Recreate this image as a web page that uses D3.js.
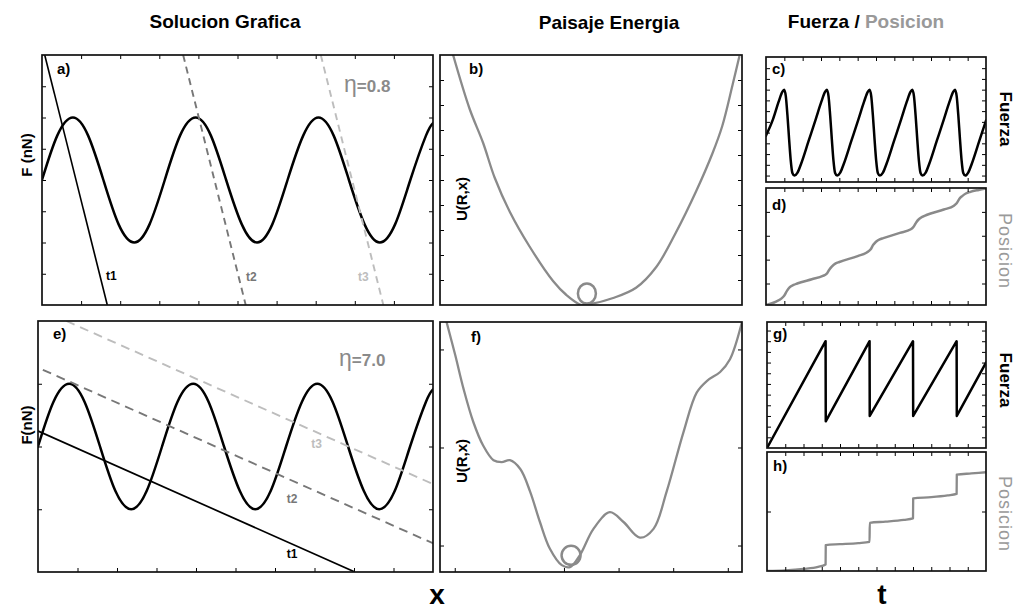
<!DOCTYPE html>
<html>
<head>
<meta charset="utf-8">
<script src="https://cdn.jsdelivr.net/npm/d3@7"></script>
<style>
  body { margin: 0; background: #fff; }
  svg { display: block; }
  text { font-family: "Liberation Sans", Arial, Helvetica, sans-serif; }
</style>
</head>
<body>
<svg id="chart" width="1016" height="610"></svg>
<script>
// ---------- data ----------
// periodic substrate force F(x) (panels a and e)
const substrateX = [0, 0.39, 0.79, 1.18, 1.57, 1.96, 2.36, 2.75, 3.14, 3.53, 3.93, 4.32, 4.71,
  5.11, 5.50, 5.89, 6.28, 6.68, 7.07, 7.46, 7.85, 8.25, 8.64, 9.03, 9.42, 9.82, 10.0];
const substrateF = [0, 0.71, 1, 0.71, 0, -0.71, -1, -0.71, 0, 0.71, 1, 0.71, 0,
  -0.71, -1, -0.71, 0, 0.71, 1, 0.71, 0, -0.71, -1, -0.71, 0, 0.71, 0.91];

// spring load lines: position where each line crosses F = 0, and common slope
const loadNames = ["t1", "t2", "t3"];
const loadCrossA = [0.87, 4.41, 7.93];
const loadSlopeA = -2.5;
const loadCrossE = [0.88, 4.49, 7.86];
const loadSlopeE = -0.28;
const etaValues = ["0.8", "7.0"];

// energy landscape U(R,x), low damping (b)
const landBX = [0.97, 1.27, 1.52, 1.73, 2.01, 2.37, 2.80, 3.04, 3.32, 3.47, 3.90, 4.32, 4.69, 5.05, 5.42, 5.72, 5.90, 6.09, 6.21];
const landBU = [10.0, 7.86, 6.48, 5.10, 3.72, 2.34, 0.96, 0.41, 0.0, 0.03, 0.28, 0.69, 1.52, 2.90, 4.55, 6.07, 7.17, 8.83, 9.93];
const ballB = [3.42, 0.46];

// energy landscape U(R,x), high damping (f)
const landFX = [0.85, 1.01, 1.16, 1.34, 1.52, 1.71, 1.86, 2.01, 2.20, 2.38, 2.56, 2.74, 2.96, 3.11, 3.29,
  3.54, 3.84, 4.09, 4.39, 4.64, 4.88, 5.19, 5.43, 5.62, 5.86, 6.04, 6.26];
const landFU = [2.28, 1.94, 1.60, 1.26, 1.02, 0.87, 0.85, 0.87, 0.78, 0.55, 0.24, -0.03, -0.20, -0.22, -0.10,
  0.17, 0.34, 0.24, 0.08, 0.17, 0.55, 1.16, 1.56, 1.68, 1.77, 1.90, 2.28];
const ballF = [3.13, -0.10];

// force vs time (c)
const forceCT = [0, 0.39, 0.69, 0.89, 0.99, 1.08, 1.17, 1.26, 1.35, 1.44, 1.55,
  1.72, 1.92, 2.32, 2.72, 3.02, 3.22, 3.32, 3.41, 3.50, 3.59, 3.68, 3.77, 3.88,
  4.05, 4.25, 4.65, 5.05, 5.35, 5.55, 5.65, 5.74, 5.83, 5.92, 6.01, 6.10, 6.21,
  6.38, 6.58, 6.98, 7.38, 7.68, 7.88, 7.98, 8.07, 8.16, 8.25, 8.34, 8.43, 8.54,
  8.71, 8.91, 9.31, 9.71, 10.01, 10.21, 10.31, 10.40, 10.49, 10.58, 10.67, 10.76, 10.87,
  11.03, 11.23, 11.63, 12.0];
const forceCF = [-0.07, 0.32, 0.72, 0.95, 1.0, 0.85, 0.4, -0.15, -0.65, -0.94, -1.0,
  -0.93, -0.72, -0.2, 0.32, 0.72, 0.95, 1.0, 0.85, 0.4, -0.15, -0.65, -0.94, -1.0,
  -0.93, -0.72, -0.2, 0.32, 0.72, 0.95, 1.0, 0.85, 0.4, -0.15, -0.65, -0.94, -1.0,
  -0.93, -0.72, -0.2, 0.32, 0.72, 0.95, 1.0, 0.85, 0.4, -0.15, -0.65, -0.94, -1.0,
  -0.93, -0.72, -0.2, 0.32, 0.72, 0.95, 1.0, 0.85, 0.4, -0.15, -0.65, -0.94, -1.0,
  -0.93, -0.72, -0.2, 0.28];

// position vs time (d)
const posDT = [0, 0.55, 0.85, 1.0, 1.15, 1.3, 1.5, 1.7, 2.5, 3.1, 3.3, 3.45, 3.6, 3.8, 4.0, 5.0, 5.5, 5.7, 5.85,
  6.0, 6.2, 6.4, 7.3, 7.9, 8.05, 8.2, 8.35, 8.55, 8.75, 9.7, 10.25, 10.4, 10.55, 10.7, 10.9, 11.15, 11.6, 12.0];
const posDP = [-0.9, -0.76, -0.62, -0.5, -0.3, -0.15, -0.06, 0.0, 0.18, 0.32, 0.4, 0.58, 0.72, 0.84, 0.9, 1.15, 1.3, 1.42, 1.62,
  1.75, 1.85, 1.9, 2.12, 2.27, 2.38, 2.57, 2.7, 2.8, 2.87, 3.1, 3.26, 3.36, 3.55, 3.66, 3.77, 3.84, 3.92, 3.98];

// force vs time, stick-slip (g)
const forceGT = [0, 3.21, 3.22, 5.62, 5.63, 8.0, 8.01, 10.39, 10.40, 12.0];
const forceGF = [0, 1.0, 0.25, 1.0, 0.30, 1.0, 0.30, 1.0, 0.30, 0.80];

// position vs time, stick-slip (h)
const posHT = [0, 1.0, 2.0, 2.8, 3.21, 3.22, 4.0, 5.0, 5.62, 5.63, 6.5, 7.5, 8.0, 8.01, 9.0, 9.9, 10.39, 10.40, 11.2, 12.0];
const posHP = [0, 0.02, 0.07, 0.14, 0.22, 0.87, 0.90, 0.94, 0.98, 1.62, 1.66, 1.72, 1.77, 2.44, 2.48, 2.54, 2.59, 3.24, 3.28, 3.32];

// ---------- layout ----------
const layout = {
  a: { x: 42, y: 55, w: 391, h: 250 },
  b: { x: 440, y: 55, w: 302, h: 250 },
  c: { x: 766, y: 57, w: 220, h: 125 },
  d: { x: 766, y: 188, w: 220, h: 117 },
  e: { x: 38, y: 321, w: 395, h: 251 },
  f: { x: 440, y: 322, w: 302, h: 250 },
  g: { x: 767, y: 322, w: 219, h: 126 },
  h: { x: 767, y: 452, w: 219, h: 119 }
};
const BLACK = "#000";
const GREY = "#8a8a8a";
const MID = "#777";
const LIGHT = "#bdbdbd";

const svg = d3.select("#chart");

function makePanel(key, xDom, yDom) {
  const p = layout[key];
  const g = svg.append("g").attr("transform", `translate(${p.x},${p.y})`);
  const x = d3.scaleLinear().domain(xDom).range([0, p.w]);
  const y = d3.scaleLinear().domain(yDom).range([p.h, 0]);
  const clipId = "clip-" + key;
  g.append("clipPath").attr("id", clipId)
    .append("rect").attr("width", p.w).attr("height", p.h);
  const plot = g.append("g").attr("clip-path", `url(#${clipId})`);
  return { g, plot, x, y, p };
}

function frame(pn, xTicks, yTicks, opts = {}) {
  const { g, x, y, p } = pn;
  const size = 4;
  const mk = (axis, tx, ty) => {
    const a = g.append("g").attr("transform", `translate(${tx},${ty})`).call(axis);
    a.select(".domain").remove();
    a.selectAll("line").attr("stroke", opts.tickColor || BLACK).attr("stroke-width", 1);
  };
  if (xTicks) {
    if (opts.top !== false) mk(d3.axisBottom(x).tickValues(xTicks).tickSize(size).tickFormat(""), 0, 0);
    if (opts.bottom !== false) mk(d3.axisTop(x).tickValues(xTicks).tickSize(size).tickFormat(""), 0, p.h);
  }
  if (yTicks) {
    mk(d3.axisRight(y).tickValues(yTicks).tickSize(size).tickFormat(""), 0, 0);
    mk(d3.axisLeft(y).tickValues(yTicks).tickSize(size).tickFormat(""), p.w, 0);
  }
  g.append("rect").attr("width", p.w).attr("height", p.h)
    .attr("fill", "none").attr("stroke", opts.border || "#111").attr("stroke-width", opts.bw || 1.7);
}

function curve(pn, xs, ys, color, width, shape) {
  const line = d3.line()
    .x(d => pn.x(d[0])).y(d => pn.y(d[1]))
    .curve(shape || d3.curveMonotoneX);
  pn.plot.append("path")
    .datum(xs.map((v, i) => [v, ys[i]]))
    .attr("d", line)
    .attr("fill", "none").attr("stroke", color).attr("stroke-width", width)
    .attr("stroke-linejoin", "round").attr("stroke-linecap", "round");
}

function label(pn, text, px, py, opts = {}) {
  pn.g.append("text").attr("x", px).attr("y", py)
    .attr("font-size", opts.size || 15).attr("font-weight", opts.weight || "bold")
    .attr("fill", opts.color || BLACK).text(text);
}

function loadLines(pn, cross, slope, dashes, widths, colors, fDom) {
  cross.forEach((c, i) => {
    const x0 = c + fDom[1] / slope, x1 = c + fDom[0] / slope;
    const lo = Math.min(x0, x1), hi = Math.max(x0, x1);
    pn.plot.append("line")
      .attr("x1", pn.x(lo)).attr("y1", pn.y(slope * (lo - c)))
      .attr("x2", pn.x(hi)).attr("y2", pn.y(slope * (hi - c)))
      .attr("stroke", colors[i]).attr("stroke-width", widths[i])
      .attr("stroke-dasharray", dashes[i]);
  });
}

function etaLabel(pn, value, px, py) {
  const t = pn.g.append("text").attr("x", px).attr("y", py).attr("fill", GREY);
  t.append("tspan").attr("font-size", 23).attr("font-weight", "normal").text("\u03B7");
  t.append("tspan").attr("font-size", 17).attr("font-weight", "bold").text("=" + value);
}

function yTitle(px, py, text, size) {
  svg.append("text").attr("transform", `translate(${px},${py}) rotate(-90)`)
    .attr("text-anchor", "middle").attr("font-size", size).attr("font-weight", "bold")
    .attr("fill", BLACK).text(text);
}

function sideTitle(px, py, text, color, weight, size, spacing) {
  svg.append("text").attr("transform", `translate(${px},${py}) rotate(90)`)
    .attr("text-anchor", "middle").attr("font-size", size).attr("font-weight", weight)
    .attr("letter-spacing", spacing || 0)
    .attr("fill", color).text(text);
}

const loadColors = [BLACK, MID, LIGHT];

// ---------- panel a: graphical solution, low damping ----------
const pa = makePanel("a", [0, 10], [-2, 2]);
curve(pa, substrateX, substrateF, BLACK, 2.5, d3.curveNatural);
loadLines(pa, loadCrossA, loadSlopeA, ["none", "7,5", "7,5"], [1.6, 1.9, 1.9], loadColors, [-2, 2]);
frame(pa, d3.range(1, 10), d3.range(-1.5, 1.51, 0.5));
label(pa, "a)", 15, 19);
const labPosA = [[1.64, -1.6], [5.22, -1.62], [8.08, -1.62]];
loadNames.forEach((n, i) => label(pa, n, pa.x(labPosA[i][0]), pa.y(labPosA[i][1]), { size: 12, color: loadColors[i] }));
etaLabel(pa, etaValues[0], 302, 37);

// ---------- panel e: graphical solution, high damping ----------
const pe = makePanel("e", [0, 10], [-2, 2]);
curve(pe, substrateX, substrateF, BLACK, 2.5, d3.curveNatural);
loadLines(pe, loadCrossE, loadSlopeE, ["none", "9,6", "9,6"], [1.7, 1.9, 1.9], loadColors, [-2, 2]);
frame(pe, d3.range(1, 10), [-1, 0, 1], { top: false });
label(pe, "e)", 15, 18);
const labPosE = [[6.3, -1.78], [6.3, -0.9], [6.92, -0.02]];
loadNames.forEach((n, i) => label(pe, n, pe.x(labPosE[i][0]), pe.y(labPosE[i][1]), { size: 12, color: loadColors[i] }));
etaLabel(pe, etaValues[1], 301, 45);

// ---------- panel b: energy landscape, low damping ----------
const pb = makePanel("b", [0.73, 6.26], [0, 10]);
curve(pb, landBX, landBU, GREY, 2.3, d3.curveCatmullRom);
pb.plot.append("ellipse").attr("cx", pb.x(ballB[0])).attr("cy", pb.y(ballB[1]))
  .attr("rx", 9).attr("ry", 10).attr("fill", "none").attr("stroke", GREY).attr("stroke-width", 2.5);
frame(pb, null, d3.range(1, 10));
label(pb, "b)", 29, 19);

// ---------- panel f: energy landscape, high damping ----------
const pf = makePanel("f", [0.73, 6.26], [-0.27, 2.28]);
curve(pf, landFX, landFU, GREY, 2.3, d3.curveCatmullRom);
pf.plot.append("ellipse").attr("cx", pf.x(ballF[0])).attr("cy", pf.y(ballF[1]))
  .attr("rx", 9.5).attr("ry", 9.5).attr("fill", "none").attr("stroke", GREY).attr("stroke-width", 2.5);
frame(pf, d3.range(1, 7), [0, 1, 2], { top: false });
label(pf, "f)", 31, 20);

// ---------- panels c, d: force / position vs time, low damping ----------
const pc = makePanel("c", [0, 12], [-1.15, 1.76]);
curve(pc, forceCT, forceCF, BLACK, 2.5);
frame(pc, d3.range(1, 12), d3.range(-1, 1.51, 0.25));
label(pc, "c)", 6, 17);

const pd = makePanel("d", [0, 12], [-0.9, 4.0]);
curve(pd, posDT, posDP, GREY, 2.5);
frame(pd, d3.range(1, 12), [0, 1, 2, 3]);
label(pd, "d)", 6, 22);

// ---------- panels g, h: force / position vs time, high damping ----------
const pg = makePanel("g", [0, 12], [0, 1.18]);
curve(pg, forceGT, forceGF, BLACK, 2.5, d3.curveLinear);
frame(pg, d3.range(1, 12), d3.range(0.1, 1.15, 0.1));
label(pg, "g)", 6, 17);

const ph = makePanel("h", [0, 12], [0, 4]);
curve(ph, posHT, posHP, GREY, 2.3, d3.curveMonotoneX);
frame(ph, d3.range(1, 12), [2]);
label(ph, "h)", 6, 19);

// ---------- titles and axis names ----------
const titleFont = 19;
svg.append("text").attr("x", 225).attr("y", 28).attr("text-anchor", "middle")
  .attr("font-size", titleFont).attr("font-weight", "bold").text("Solucion Grafica");
svg.append("text").attr("x", 609).attr("y", 29).attr("text-anchor", "middle")
  .attr("font-size", titleFont).attr("font-weight", "bold").text("Paisaje Energia");
const ft = svg.append("text").attr("x", 866).attr("y", 28).attr("text-anchor", "middle")
  .attr("font-size", titleFont).attr("font-weight", "bold");
ft.append("tspan").attr("fill", BLACK).text("Fuerza / ");
ft.append("tspan").attr("fill", "#999").text("Posicion");

yTitle(32, 155, "F (nN)", 15);
yTitle(32, 425, "F(nN)", 15);
yTitle(467, 199, "U(R,x)", 15);
yTitle(467, 461, "U(R,x)", 15);

sideTitle(1000, 119, "Fuerza", BLACK, "bold", 17);
sideTitle(999, 251, "Posicion", "#9a9a9a", "normal", 18, 1);
sideTitle(1000, 380, "Fuerza", BLACK, "bold", 17);
sideTitle(999, 514, "Posicion", "#9a9a9a", "normal", 18, 1);

svg.append("text").attr("x", 437).attr("y", 604).attr("text-anchor", "middle")
  .attr("font-size", 28).attr("font-weight", "bold").text("x");
svg.append("text").attr("x", 882).attr("y", 604).attr("text-anchor", "middle")
  .attr("font-size", 28).attr("font-weight", "bold").text("t");
</script>
</body>
</html>
